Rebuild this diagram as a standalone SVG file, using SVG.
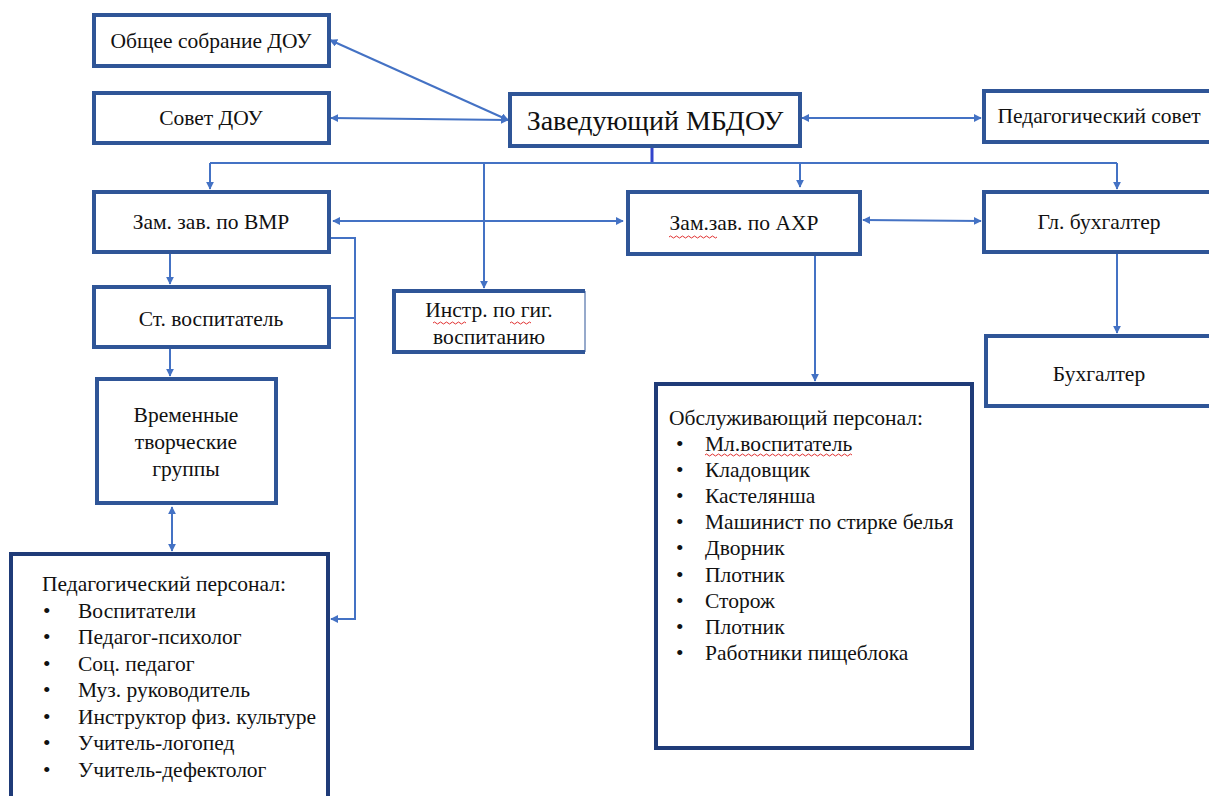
<svg xmlns="http://www.w3.org/2000/svg" width="1209" height="796" viewBox="0 0 1209 796" font-family="Liberation Serif, serif">
<defs>
<marker id="ah" viewBox="0 0 10 10" refX="9" refY="5" markerWidth="8" markerHeight="8" markerUnits="userSpaceOnUse" orient="auto-start-reverse">
<path d="M0,0 L10,5 L0,10 z" fill="#4472C4"/>
</marker>
<style>
.box{fill:#fff;stroke:#2F5597;stroke-width:4}
.box2{fill:#fff;stroke:#1F3B78;stroke-width:4}
text{font-size:21.5px;fill:#111}
.tl{font-size:28px}
.c{fill:none;stroke:#4472C4;stroke-width:2}
.sq{fill:none;stroke:#E03030;stroke-width:1}
</style>
</defs>
<rect width="1209" height="796" fill="#fff"/>
<g id="connectors">
<path class="c" d="M330,40 L508,120" marker-start="url(#ah)" marker-end="url(#ah)"/>
<path class="c" d="M331,118 L508,120" marker-start="url(#ah)" marker-end="url(#ah)"/>
<path class="c" d="M802,118 L981,118" marker-start="url(#ah)" marker-end="url(#ah)"/>
<path d="M652,147 L652,163" stroke="#3344CC" stroke-width="3" fill="none"/>
<path class="c" d="M210,163 L1117,163"/>
<path class="c" d="M210,163 L210,189" marker-end="url(#ah)"/>
<path class="c" d="M484,163 L484,288" marker-end="url(#ah)"/>
<path class="c" d="M800,163 L800,187" marker-end="url(#ah)"/>
<path class="c" d="M1117,163 L1117,189" marker-end="url(#ah)"/>
<path class="c" d="M333,221 L623,221" marker-start="url(#ah)" marker-end="url(#ah)"/>
<path class="c" d="M863,220 L981,221" marker-start="url(#ah)" marker-end="url(#ah)"/>
<path class="c" d="M170,254 L170,284" marker-end="url(#ah)"/>
<path class="c" d="M170,349 L170,376" marker-end="url(#ah)"/>
<path class="c" d="M172,507 L172,551" marker-start="url(#ah)" marker-end="url(#ah)"/>
<path class="c" d="M329,238 L355,238 L355,619 L331,619" marker-end="url(#ah)"/>
<path class="c" d="M329,318 L355,318"/>
<path class="c" d="M815,256 L815,381" marker-end="url(#ah)"/>
<path class="c" d="M1117,254 L1117,333" marker-end="url(#ah)"/>
</g>
<g id="n-obshchee">
<rect class="box" x="94" y="15" width="235" height="51"/>
<text x="211" y="48" text-anchor="middle">Общее собрание ДОУ</text>
</g>
<g id="n-sovet">
<rect class="box" x="94" y="93" width="235" height="50"/>
<text x="211" y="125" text-anchor="middle">Совет ДОУ</text>
</g>
<g id="n-zav">
<rect class="box" x="510" y="94" width="290" height="52"/>
<text class="tl" x="655" y="130" text-anchor="middle">Заведующий МБДОУ</text>
</g>
<g id="n-pedsovet">
<rect class="box" x="984" y="91" width="230" height="51"/>
<text x="1099" y="123" text-anchor="middle">Педагогический совет</text>
</g>
<g id="n-vmr">
<rect class="box" x="94" y="192" width="235" height="60"/>
<text x="211" y="229" text-anchor="middle">Зам. зав. по ВМР</text>
</g>
<g id="n-ahr">
<rect class="box" x="628" y="192" width="232" height="62"/>
<text x="744" y="230" text-anchor="middle">Зам.зав. по АХР</text>
<path class="sq" d="M669,237 q1.5,-2 3,0 t3,0 t3,0 t3,0 t3,0 t3,0 t3,0 t3,0 t3,0 t3,0 t3,0 t3,0 t3,0 t3,0 t3,0 t3,0"/>
</g>
<g id="n-glbuh">
<rect class="box" x="984" y="192" width="230" height="60"/>
<text x="1099" y="229" text-anchor="middle">Гл. бухгалтер</text>
</g>
<g id="n-stvosp">
<rect class="box" x="94" y="287" width="235" height="60"/>
<text x="211" y="326" text-anchor="middle">Ст. воспитатель</text>
</g>
<g id="n-instr">
<rect x="394" y="291" width="191" height="61" fill="#fff"/>
<path d="M585,291 L394,291 L394,352 L585,352" fill="none" stroke="#2F5597" stroke-width="4"/>
<path d="M585,291 L585,352" fill="none" stroke="#2F5597" stroke-width="1"/>
<text x="489" y="317" text-anchor="middle">Инстр. по гиг.</text>
<text x="489" y="344" text-anchor="middle">воспитанию</text>
<path class="sq" d="M433,323 q1.5,-2 3,0 t3,0 t3,0 t3,0 t3,0 t3,0 t3,0 t3,0 t3,0 t3,0 t3,0"/>
<path class="sq" d="M510,323 q1.5,-2 3,0 t3,0 t3,0 t3,0 t3,0 t3,0 t3,0"/>
</g>
<g id="n-vremennye">
<rect class="box" x="97" y="379" width="179" height="124"/>
<text x="186" y="422" text-anchor="middle">Временные</text>
<text x="186" y="449" text-anchor="middle">творческие</text>
<text x="186" y="476" text-anchor="middle">группы</text>
</g>
<g id="n-buh">
<rect class="box" x="986" y="336" width="228" height="70"/>
<text x="1099" y="381" text-anchor="middle">Бухгалтер</text>
</g>
<g id="n-pedpers">
<rect class="box2" x="11" y="554" width="317" height="250"/>
<text x="42" y="591">Педагогический персонал:</text>
<text x="43" y="618">•</text><text x="78" y="618">Воспитатели</text>
<text x="43" y="644">•</text><text x="78" y="644">Педагог-психолог</text>
<text x="43" y="671">•</text><text x="78" y="671">Соц. педагог</text>
<text x="43" y="697">•</text><text x="78" y="697">Муз. руководитель</text>
<text x="43" y="724">•</text><text x="78" y="724">Инструктор физ. культуре</text>
<text x="43" y="750">•</text><text x="78" y="750">Учитель-логопед</text>
<text x="43" y="777">•</text><text x="78" y="777">Учитель-дефектолог</text>
</g>
<g id="n-obsl">
<rect class="box2" x="656" y="384" width="316" height="364"/>
<text x="669" y="425">Обслуживающий персонал:</text>
<text x="676" y="451">•</text><text x="705" y="451">Мл.воспитатель</text>
<text x="676" y="477">•</text><text x="705" y="477">Кладовщик</text>
<text x="676" y="503">•</text><text x="705" y="503">Кастелянша</text>
<text x="676" y="529">•</text><text x="705" y="529">Машинист по стирке белья</text>
<text x="676" y="555">•</text><text x="705" y="555">Дворник</text>
<text x="676" y="582">•</text><text x="705" y="582">Плотник</text>
<text x="676" y="608">•</text><text x="705" y="608">Сторож</text>
<text x="676" y="634">•</text><text x="705" y="634">Плотник</text>
<text x="676" y="660">•</text><text x="705" y="660">Работники пищеблока</text>
<path class="sq" d="M705,455 q1.5,-2 3,0 t3,0 t3,0 t3,0 t3,0 t3,0 t3,0 t3,0 t3,0 t3,0 t3,0 t3,0 t3,0 t3,0 t3,0 t3,0 t3,0 t3,0 t3,0 t3,0 t3,0 t3,0 t3,0 t3,0 t3,0 t3,0 t3,0 t3,0 t3,0 t3,0 t3,0 t3,0 t3,0 t3,0 t3,0 t3,0 t3,0 t3,0 t3,0 t3,0 t3,0 t3,0 t3,0 t3,0 t3,0 t3,0 t3,0 t3,0 t3,0"/>
</g>
</svg>
